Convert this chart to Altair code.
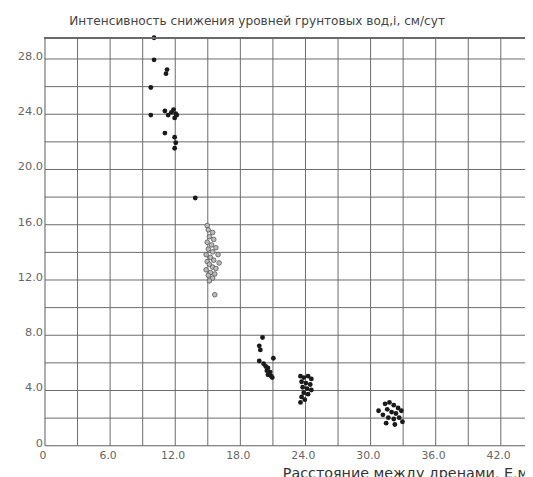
import altair as alt
import pandas as pd

# Dark (filled) observations: distance between drains E (m), intensity i (cm/day)
x_dark = [10.1, 10.1, 11.3, 11.2, 9.8, 9.8, 11.1, 11.4, 11.9, 12.1, 12.0, 12.2, 11.7, 11.1, 12.0, 12.1, 12.0,
          13.9,
          20.1, 19.8, 19.9, 19.8, 21.1, 20.2, 20.4, 20.6, 20.5, 20.8, 20.6, 20.9, 21.0,
          23.6, 23.9, 24.3, 24.6, 23.7, 24.1, 24.5, 23.8, 24.2, 24.6, 23.9, 24.3, 23.7, 24.0, 23.6,
          30.8, 31.4, 31.8, 32.2, 32.6, 31.6, 32.0, 32.4, 32.9, 31.2, 31.7, 32.2, 32.7, 31.5, 32.3, 33.0]
y_dark = [29.5, 27.9, 27.2, 26.9, 25.9, 23.9, 24.2, 23.9, 24.3, 24.0, 23.7, 23.9, 24.1, 22.6, 22.3, 21.9, 21.5,
          17.9,
          7.8, 7.2, 6.9, 6.1, 6.3, 5.9, 5.7, 5.6, 5.4, 5.3, 5.1, 5.0, 4.9,
          5.0, 4.9, 5.0, 4.8, 4.6, 4.5, 4.4, 4.2, 4.1, 4.0, 3.8, 3.7, 3.5, 3.3, 3.1,
          2.5, 3.0, 3.1, 2.9, 2.7, 2.6, 2.4, 2.3, 2.5, 2.2, 2.0, 1.9, 2.0, 1.6, 1.5, 1.7]

# Light (open) observations
x_light = [15.0, 15.1, 15.5, 15.2, 15.6, 15.0, 15.4, 15.8, 15.1, 15.5, 14.9, 16.0, 15.3, 15.6, 15.0, 16.1,
           15.2, 15.5, 15.8, 14.9, 15.3, 15.7, 15.1, 15.5, 15.2, 15.7]
y_light = [15.9, 15.6, 15.4, 15.1, 14.9, 14.7, 14.5, 14.3, 14.2, 14.0, 13.8, 13.8, 13.6, 13.4, 13.3, 13.2,
           13.1, 12.9, 12.8, 12.7, 12.5, 12.4, 12.3, 12.1, 11.9, 10.9]

x_ticks = [0, 3, 6, 9, 12, 15, 18, 21, 24, 27, 30, 33, 36, 39, 42]
y_ticks = [0, 2, 4, 6, 8, 10, 12, 14, 16, 18, 20, 22, 24, 26, 28]

title_text = "Интенсивность снижения уровней грунтовых вод,i, см/сут"
x_title = "Расстояние между дренами, Е,м"

df_dark = pd.DataFrame({"E": x_dark, "i": y_dark})
df_light = pd.DataFrame({"E": x_light, "i": y_light})

FONT = "DejaVu Sans"
GRID = "#6a6a6a"

xenc = alt.X("E:Q", scale=alt.Scale(domain=[0, 44.3], nice=False, zero=False),
             axis=alt.Axis(values=x_ticks, grid=True, ticks=False, domain=False,
                           labelExpr="datum.value % 6 == 0 ? (datum.value == 0 ? '0' : format(datum.value, '.1f')) : ''",
                           labelFont=FONT, labelFontSize=11, labelColor="#666", labelPadding=4,
                           labelFlush=False, labelOffset=-2,
                           title=x_title, titleFont=FONT, titleFontSize=14.5, titleFontWeight="normal",
                           titleColor="#333", titleAlign="left", titleAnchor="start",
                           titleX=241, titleY=29, titleBaseline="middle",
                           gridColor=GRID, gridOpacity=1, gridWidth=1))
yenc = alt.Y("i:Q", scale=alt.Scale(domain=[0, 29.5], nice=False, zero=True),
             axis=alt.Axis(values=y_ticks, grid=True, ticks=False, domain=False,
                           labelExpr="datum.value % 4 == 0 ? (datum.value == 0 ? '0' : format(datum.value, '.1f')) : ''",
                           labelFont=FONT, labelFontSize=11.5, labelColor="#666", labelPadding=2,
                           labelBaseline="middle", labelOffset=-2, labelFlush=False,
                           title=None,
                           gridColor=GRID, gridOpacity=1, gridWidth=1))

dark = alt.Chart(df_dark).mark_circle(size=24, color="#1a1a1a", opacity=1).encode(x=xenc, y=yenc)
light = alt.Chart(df_light).mark_point(shape="circle", size=22, filled=True, fill="#bbbbbb",
                                        stroke="#555", strokeWidth=0.8, opacity=1).encode(x=xenc, y=yenc)
top_border = alt.Chart(df_dark).mark_rule(color=GRID, strokeWidth=1).encode(
    x=alt.value(0), x2=alt.value(487), y=alt.value(0))

chart = alt.layer(light, dark, top_border).properties(
    width=487, height=413,
    title=alt.TitleParams(title_text, font=FONT, fontSize=12.3, fontWeight="normal", color="#444",
                          anchor="middle", offset=8, dx=-28),
    autosize=alt.AutoSizeParams(type="none"),
    padding={"left": 37, "top": 27, "right": 0, "bottom": 29},
).configure_view(stroke=None).configure(background="white")

chart.save("out.html", embed_options={"renderer": "svg", "actions": False})
